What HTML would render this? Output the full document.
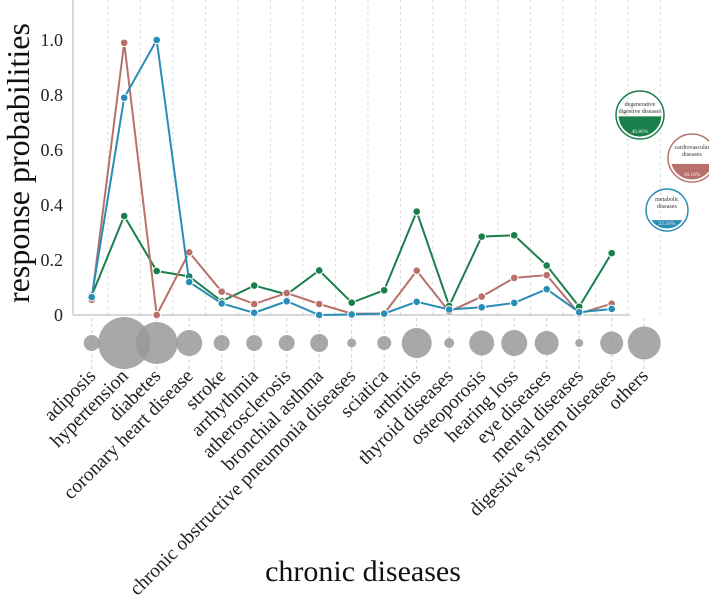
<!DOCTYPE html>
<html><head><meta charset="utf-8"><style>
html,body{margin:0;padding:0;background:#fff;}
svg{display:block;font-family:"Liberation Serif",serif;}
</style></head><body>
<svg id="chart" width="709" height="598"></svg>
<script>
const categories=["adiposis","hypertension","diabetes","coronary heart disease","stroke","arrhythmia","atherosclerosis","bronchial asthma","chronic obstructive pneumonia diseases","sciatica","arthritis","thyroid diseases","osteoporosis","hearing loss","eye diseases","mental diseases","digestive system diseases","others"];
const degenerative=[0.07,0.36,0.16,0.14,0.05,0.107,0.075,0.162,0.045,0.09,0.376,0.033,0.285,0.29,0.18,0.03,0.225,null];
const cardiovascular=[0.055,0.99,0.0,0.228,0.085,0.04,0.08,0.04,0.005,0.005,0.161,0.012,0.067,0.135,0.145,0.005,0.041,null];
const metabolic=[0.065,0.79,1.0,0.12,0.042,0.008,0.05,0.0,0.002,0.005,0.048,0.02,0.028,0.044,0.094,0.01,0.022,null];
const bubbleSizes=[8,26,21,13,8,8,8,9,4.5,7,15,5,12.5,13,12,4,11.5,16.5];
const yTicks=[0,0.2,0.4,0.6,0.8,1.0];
const yTickLabels=["0","0.2","0.4","0.6","0.8","1.0"];
const legendNames=["degenerative digestive diseases","cardiovascular diseases","metabolic diseases"];
const legendPct=["46.86%","36.18%","22.58%"];
const legendFrac=[0.4686,0.3618,0.2258];

const NS="http://www.w3.org/2000/svg";
const svg=document.getElementById('chart');
function el(t,a,p){const e=document.createElementNS(NS,t);for(const k in a)e.setAttribute(k,a[k]);(p||svg).appendChild(e);return e;}
const x=i=>91.7+i*32.5;
const y=v=>315-v*275;

for(let i=0;i<categories.length;i++){
  const g=el('line',{x1:x(i)+16.25,x2:x(i)+16.25,y1:0,y2:315,stroke:'#ddd','stroke-dasharray':'3,3'});
  
  
  const g2=el('line',{x1:x(i),x2:x(i),y1:318,y2:372,stroke:'#ccc','stroke-dasharray':'3,3'});
  
  
}
const ya=el('line',{x1:73,x2:73,y1:0,y2:315,stroke:'#ccc','stroke-width':1.5});


const xa=el('line',{x1:73,x2:630,y1:315,y2:315,stroke:'#ccc','stroke-width':1.5});


yTicks.forEach((v,i)=>{
  const t=el('text',{x:63,y:y(v)+6,'text-anchor':'end','font-size':18,fill:'#222'});
  t.textContent=yTickLabels[i];
  
  
});
bubbleSizes.forEach((r,i)=>{
  const c=el('circle',{cx:x(i),cy:343,r:r,fill:'#999','fill-opacity':0.85});
  
  
});
categories.forEach((n,i)=>{
  const ax=x(i)+5, ay=377;
  const t=el('text',{x:ax,y:ay,'text-anchor':'end','font-size':19.5,fill:'#222',transform:`rotate(-45 ${ax} ${ay})`});
  t.textContent=n;
  
  
});
const series=[[degenerative,'#1a7f4b','degenerative-line'],[cardiovascular,'#b8716a','cardiovascular-line'],[metabolic,'#2a8db5','metabolic-line']];
series.forEach(([vals,col,name])=>{
  let d='';vals.forEach((v,i)=>{if(v!=null)d+=(d?'L':'M')+x(i)+','+y(v);});
  const p=el('path',{d:d,fill:'none',stroke:col,'stroke-width':2});
  
  
  vals.forEach((v,i)=>{if(v==null)return;
    const c=el('circle',{cx:x(i),cy:y(v),r:3.8,fill:col,stroke:'#fff','stroke-width':1});
    
    
  });
});
const lpos=[[640,115,24,'#1a7f4b'],[692,158,24,'#b8716a'],[667,210,21,'#2a8db5']];
legendNames.forEach((n,i)=>{
  const [cx,cy,r,col]=lpos[i];
  const g=el('g',{});
  
  
  const clipId='clip'+i;
  const cp=el('clipPath',{id:clipId},g);el('circle',{cx:cx,cy:cy,r:r-2.5},cp);
  const h=2*(r-2.5)*legendFrac[i];
  el('rect',{x:cx-r,y:cy+r-2.5-h,width:2*r,height:h,fill:col,'clip-path':`url(#${clipId})`},g);
  el('circle',{cx:cx,cy:cy,r:r,fill:'none',stroke:col,'stroke-width':1.5},g);
  const words=n.split(' ');
  const lines=words.length>2?[words[0],words.slice(1).join(' ')]:words;
  lines.forEach((l,k)=>{const t=el('text',{x:cx,y:cy-9+k*7,'text-anchor':'middle','font-size':6,fill:'#333'},g);t.textContent=l;});
  const pt=el('text',{x:cx,y:cy+r-6,'text-anchor':'middle','font-size':5.5,fill:'#eee'},g);pt.textContent=legendPct[i];
});
const yt=el('text',{x:0,y:0,'text-anchor':'middle','font-size':32,fill:'#111',transform:'translate(29,163) rotate(-90)'});
yt.textContent='response probabilities';


const xt=el('text',{x:363,y:581,'text-anchor':'middle','font-size':30,fill:'#111'});
xt.textContent='chronic diseases';


</script>
</body></html>
